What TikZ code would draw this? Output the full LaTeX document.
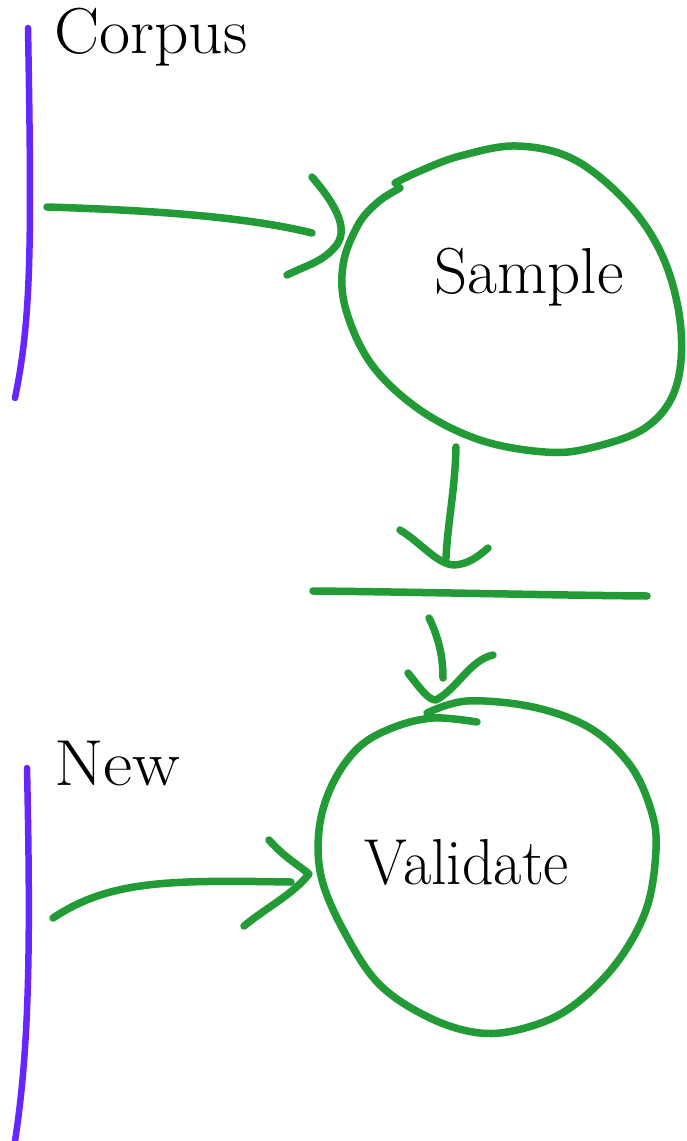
\documentclass[tikz,border=0pt]{standalone}
\definecolor{pengreen}{HTML}{229A36}
\definecolor{penpurple}{HTML}{6626FF}
\begin{document}
\begin{tikzpicture}[x=1pt,y=-1pt,
  pen/.style={draw=pengreen, line width=7.5pt, line cap=round, line join=round},
  bar/.style={draw=penpurple, line width=6.5pt, line cap=round},
  lbl/.style={font=\fontsize{65}{70}\selectfont, inner sep=0pt}]
\useasboundingbox (0,0) rectangle (686,1141);

% labels
\node[lbl, anchor=base west, xscale=1.04] (corpus) at (54,53) {Corpus};
\node[lbl, anchor=base] (sample) at (529,293) {Sample};
\node[lbl, anchor=base west, xscale=1.1] (newtxt) at (54,785) {New};
\node[lbl, anchor=base, xscale=0.95] (validate) at (467,884) {Validate};

% purple bars
\coordinate (b1t) at (28,28);
\coordinate (b1b) at (15,398);
\draw[bar] (b1t) .. controls (32,250) and (31,320) .. (b1b);
\coordinate (b2t) at (27,768);
\coordinate (b2b) at (15,1141);
\draw[bar] (b2t) .. controls (31,950) and (29,1050) .. (b2b);

% Sample outline
\draw[pen] plot[smooth, tension=0.6] coordinates {(395,183) (420,171) (460,156) (517,146) (575,160) (630,206) (665,262) (681,330) (675,390) (645,428) (590,448) (545,452) (480,440) (420,410) (372,365) (346,310) (343,265) (358,225) (378,202) (400,188)};

% Validate outline
\draw[pen] plot[smooth, tension=0.6] coordinates {(427,713) (467,701) (533,707) (590,728) (630,765) (651,810) (656,850) (646,910) (615,965) (570,1008) (525,1028) (480,1033) (430,1018) (380,985) (346,935) (322,880) (319,830) (332,785) (358,748) (392,728) (433,718) (477,722)};

% Corpus -> Sample
\coordinate (a1s) at (47,207);
\coordinate (a1e) at (312,233);
\draw[pen] (a1s) .. controls (180,211) and (260,220) .. (a1e);
\coordinate (h1a) at (312,177);
\coordinate (h1t) at (334,248);
\coordinate (h1b) at (287,275);
\draw[pen] (h1a) .. controls (338,207) and (350,232) .. (h1t) .. controls (322,262) and (305,266) .. (h1b);

% Sample -> line
\coordinate (a2s) at (456,447);
\coordinate (a2e) at (446,558);
\draw[pen] (a2s) .. controls (455,490) and (448,520) .. (a2e);
\coordinate (h2a) at (400,530);
\coordinate (h2t) at (453,565);
\coordinate (h2b) at (488,548);
\draw[pen] (h2a) .. controls (420,542) and (436,563) .. (h2t) .. controls (468,565) and (480,555) .. (h2b);

% horizontal line
\coordinate (l1) at (313,591);
\coordinate (l2) at (647,596);
\draw[pen] (l1) .. controls (420,592) and (540,595) .. (l2);

% line -> Validate
\coordinate (a3s) at (429,618);
\coordinate (a3e) at (443,678);
\draw[pen] (a3s) .. controls (440,640) and (443,660) .. (a3e);
\coordinate (h3a) at (408,673);
\coordinate (h3t) at (436,700);
\coordinate (h3b) at (493,655);
\draw[pen] (h3a) .. controls (420,688) and (428,700) .. (h3t) .. controls (458,688) and (470,660) .. (h3b);

% New -> Validate
\coordinate (a4s) at (53,918);
\coordinate (a4e) at (291,882);
\draw[pen] (a4s) .. controls (110,880) and (170,880) .. (a4e);
\coordinate (h4a) at (269,840);
\coordinate (h4t) at (309,874);
\coordinate (h4b) at (244,926);
\draw[pen] (h4a) .. controls (285,858) and (300,866) .. (h4t) .. controls (292,895) and (270,905) .. (h4b);
\end{tikzpicture}
\end{document}
